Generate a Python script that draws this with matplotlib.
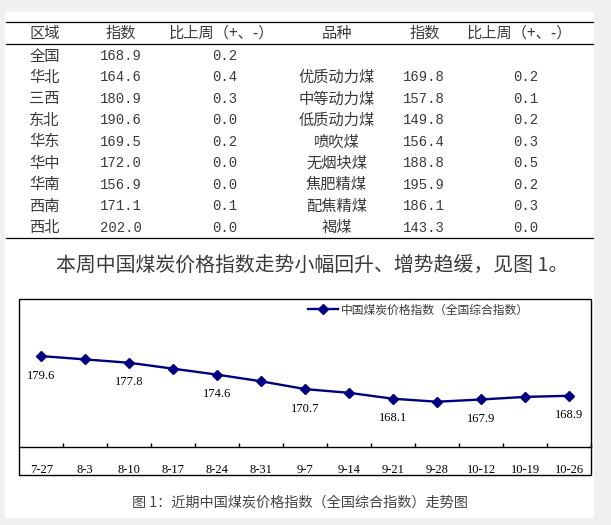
import matplotlib
matplotlib.use("Agg")
import matplotlib.pyplot as plt
from matplotlib.lines import Line2D
from matplotlib.patches import Rectangle

W, H = 611, 525

# 表格数据
regions = ['全国', '华北', '三西', '东北', '华东', '华中', '华南', '西南', '西北']
region_idx = [168.9, 164.6, 180.9, 190.6, 169.5, 172.0, 156.9, 171.1, 202.0]
region_chg = [0.2, 0.4, 0.3, 0.0, 0.2, 0.0, 0.0, 0.1, 0.0]
kinds = ['优质动力煤', '中等动力煤', '低质动力煤', '喷吹煤', '无烟块煤', '焦肥精煤', '配焦精煤', '褐煤']
kind_idx = [169.8, 157.8, 149.8, 156.4, 188.8, 195.9, 186.1, 143.3]
kind_chg = [0.2, 0.1, 0.2, 0.3, 0.5, 0.2, 0.3, 0.0]

# 走势图数据
weeks = ['7-27', '8-3', '8-10', '8-17', '8-24', '8-31', '9-7', '9-14', '9-21', '9-28', '10-12', '10-19', '10-26']
values = [179.6, 178.7, 177.8, 176.2, 174.6, 172.8, 170.7, 169.7, 168.1, 167.3, 167.9, 168.6, 168.9]
labeled = [0, 2, 4, 6, 8, 10, 12]

CJK = ['Noto Sans CJK SC', 'DejaVu Sans']
MONO = ['Liberation Mono', 'DejaVu Sans Mono']
SERIF = ['Liberation Serif', 'DejaVu Serif']
TXT = '#3a3a3a'
CJKW = 'light'


def fx(x):
    return x / W


def fy(y):
    return 1 - y / H


fig = plt.figure(figsize=(W / 100, H / 100), dpi=100, facecolor='#f0f0f0')
fig.add_artist(Rectangle((fx(5), fy(518)), fx(594) - fx(5), fy(12) - fy(518),
                         transform=fig.transFigure, facecolor='white', edgecolor='none', zorder=0))

# ---- 表格 ----
for y in (21.7, 44, 238.3):
    fig.add_artist(Line2D([fx(6), fx(593)], [fy(y), fy(y)], color='black', lw=0.9))


def cjk(x, y, s, ha='center', size=11, color=TXT):
    fig.text(fx(x), y, s, ha=ha, va='center', family=CJK, fontsize=size,
             fontweight=CJKW, color=color)


hy = fy(33.3)
cjk(29.3, hy, '区域', ha='left')
cjk(121, hy, '指数')
cjk(221, hy, '比上周（+、-）')
cjk(336.5, hy, '品种')
cjk(424.5, hy, '指数')
cjk(519, hy, '比上周（+、-）')

row0, step = 56, 21.45
for i, (r, v, c) in enumerate(zip(regions, region_idx, region_chg)):
    y = fy(row0 + i * step)
    cjk(29.3, y, r, ha='left')
    fig.text(fx(121), y, '%.1f' % v, ha='center', va='center', family=MONO, fontsize=10, color=TXT)
    fig.text(fx(224.5), y, '%.1f' % c, ha='center', va='center', family=MONO, fontsize=10, color=TXT)

for i, (k, v, c) in enumerate(zip(kinds, kind_idx, kind_chg)):
    y = fy(row0 + (i + 1) * step)
    cjk(336.5, y, k)
    fig.text(fx(423.5), y, '%.1f' % v, ha='center', va='center', family=MONO, fontsize=10, color=TXT)
    fig.text(fx(526), y, '%.1f' % c, ha='center', va='center', family=MONO, fontsize=10, color=TXT)

cjk(56.5, fy(265), '本周中国煤炭价格指数走势小幅回升、增势趋缓，见图 1。', ha='left', size=14.3)

# ---- 走势图 ----
left, right, top, axis_y, bottom = 19.3, 591, 299.3, 447, 475
fig.add_artist(Rectangle((fx(left), fy(bottom)), fx(right) - fx(left), fy(top) - fy(bottom),
                         transform=fig.transFigure, facecolor='none', edgecolor='black', lw=1.0))

ax = fig.add_axes([fx(left), fy(axis_y), fx(right) - fx(left), fy(top) - fy(axis_y)])
ax.patch.set_visible(False)
for s in ('top', 'left', 'right'):
    ax.spines[s].set_visible(False)
ax.spines['bottom'].set_linewidth(1.0)

x = list(range(len(weeks)))
ax.plot(x, values, color='#000080', lw=1.7, marker='D', ms=4.6, mfc='#000080', mec='#000080',
        label='中国煤炭价格指数（全国综合指数）')
for i in labeled:
    ax.annotate('%.1f' % values[i], (x[i], values[i]), xytext=(0, -14), textcoords='offset points',
                ha='center', va='center', family=SERIF, fontsize=9, color='black')

ax.set_xlim(-0.5, len(weeks) - 0.5)
ax.set_ylim(155.1, 194.9)
ax.set_yticks([])
ax.set_xticks([i + 0.5 for i in x])
ax.set_xticklabels([])
ax.tick_params(axis='x', which='major', direction='in', length=3, width=1.0)
ax.set_xticks(x, minor=True)
ax.set_xticklabels(weeks, minor=True, family=SERIF, fontsize=9)
ax.tick_params(axis='x', which='minor', length=0, pad=12)

ax.legend(loc='center left', bbox_to_anchor=(fx(308.3), fy(310)), bbox_transform=fig.transFigure,
          frameon=False, borderpad=0, borderaxespad=0, handlelength=2.55, handletextpad=0.2,
          prop={'family': CJK, 'size': 8.5, 'weight': CJKW}, labelcolor=TXT)

cjk(300, fy(503), '图 1：近期中国煤炭价格指数（全国综合指数）走势图', size=10.2, color='#444444')

fig.savefig('out.png', dpi=100, facecolor=fig.get_facecolor())
